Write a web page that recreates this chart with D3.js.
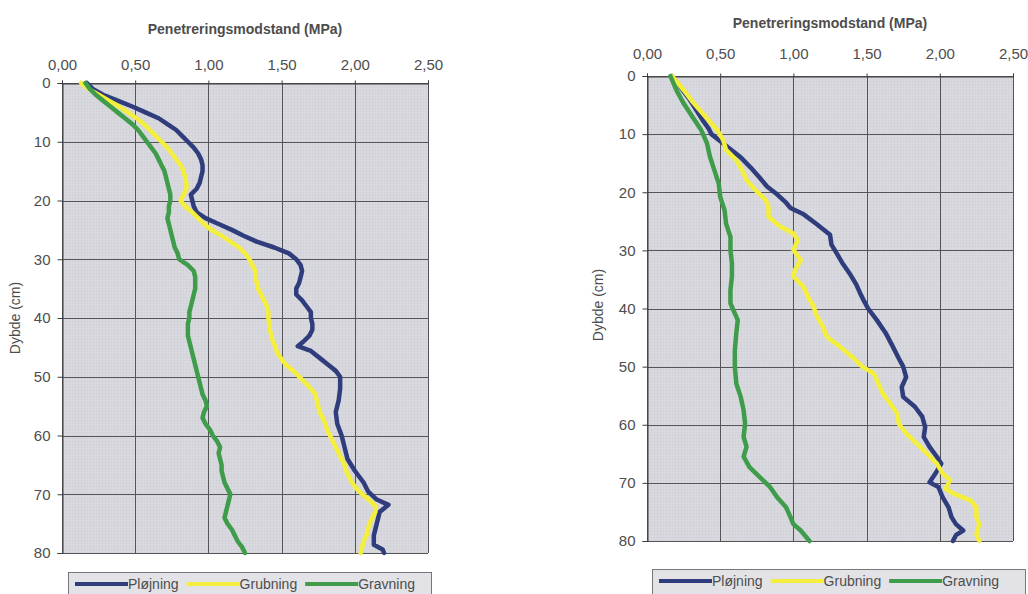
<!DOCTYPE html>
<html>
<head>
<meta charset="utf-8">
<script src="https://cdn.jsdelivr.net/npm/d3@7"></script>
<style>
  body { margin: 0; background: #fff; }
  svg text { font-family: "Liberation Sans", Arial, sans-serif; fill: #4d4d4d; }
</style>
</head>
<body>
<div id="chart"></div>
<script>
// series names and x / y ticks
var serier = ["Pløjning", "Grubning", "Gravning"];
var farver = ["#2f3d7c", "#f4ee3c", "#3f9c4b"];
var xTicks = [0, 0.5, 1, 1.5, 2, 2.5];
var yTicks = [0, 10, 20, 30, 40, 50, 60, 70, 80];

// [dybde (cm), modstand (MPa)] - left diagram
var venstrePlojning = [[0,0.17],[1,0.21],[2,0.28],[3,0.38],[4,0.48],[5,0.57],[6,0.66],[7,0.72],[8,0.78],[9,0.82],[10,0.86],
  [11,0.90],[12,0.93],[13,0.95],[14,0.96],[15,0.96],[16,0.95],[17,0.94],[18,0.92],[19,0.88],[20,0.89],[21,0.90],[22,0.92],
  [23,0.98],[24,1.07],[25,1.16],[26,1.24],[27,1.33],[28,1.45],[29,1.55],[30,1.60],[31,1.63],[32,1.64],[33,1.63],[34,1.62],
  [35,1.60],[36,1.60],[37,1.64],[38,1.67],[39,1.70],[40,1.70],[41,1.71],[42,1.71],[43,1.69],[44,1.65],[44.8,1.61],[45.6,1.70],
  [47,1.77],[48,1.82],[49,1.87],[50,1.90],[52,1.90],[54,1.89],[56,1.87],[58,1.88],[60,1.91],[62,1.93],[64,1.95],[66,2.00],
  [68,2.06],[69.5,2.09],[70.9,2.15],[71.8,2.23],[73,2.17],[75,2.15],[77,2.13],[78.6,2.13],[79.4,2.19],[80,2.20]];
var venstreGrubning = [[0,0.13],[1,0.18],[2,0.25],[3,0.32],[4,0.39],[5,0.45],[6,0.51],[7,0.56],[8,0.60],[9,0.64],[10,0.68],
  [11,0.72],[12,0.75],[13,0.78],[14,0.81],[15,0.83],[16,0.84],[17,0.85],[18,0.85],[19,0.83],[20,0.81],[21,0.84],[22,0.89],
  [23,0.93],[24,0.97],[25,1.02],[26,1.09],[27,1.15],[28,1.21],[29,1.25],[30,1.28],[31,1.30],[32,1.32],[33,1.32],[34,1.33],
  [35,1.34],[36,1.36],[37,1.38],[38,1.40],[39,1.41],[40,1.41],[42,1.42],[43,1.43],[44,1.44],[45,1.46],[46,1.47],[47,1.50],
  [48,1.53],[49,1.58],[50,1.62],[51,1.66],[52,1.70],[53,1.73],[54,1.74],[55,1.75],[56,1.76],[57,1.78],[58,1.80],[59,1.81],
  [60,1.83],[61,1.85],[62,1.87],[63,1.89],[64,1.91],[65,1.93],[66,1.94],[67,1.96],[68,1.98],[69,2.01],[70,2.05],[71,2.10],
  [72,2.14],[73,2.14],[74,2.12],[75,2.10],[76,2.09],[77,2.08],[78,2.06],[79,2.05],[80,2.04]];
var venstreGravning = [[0,0.16],[1,0.19],[2,0.23],[3,0.28],[4,0.33],[5,0.38],[6,0.43],[7,0.48],[8,0.52],[9,0.55],[10,0.58],
  [11,0.61],[12,0.64],[13,0.66],[14,0.68],[15,0.70],[16,0.71],[17,0.72],[18,0.73],[19,0.74],[20,0.74],[21,0.73],[22,0.73],
  [23,0.72],[24,0.73],[25,0.74],[26,0.75],[27,0.76],[28,0.77],[29,0.79],[30,0.80],[31,0.86],[32,0.90],[33,0.91],[34,0.91],
  [35,0.91],[36,0.90],[37,0.89],[38,0.88],[39,0.87],[40,0.87],[41,0.86],[42,0.86],[43,0.86],[44,0.87],[45,0.88],[46,0.89],
  [47,0.90],[48,0.91],[49,0.92],[50,0.93],[51,0.94],[52,0.95],[53,0.96],[54,0.98],[55,0.99],[56,0.97],[57,0.96],[58,0.98],
  [59,1.01],[60,1.03],[61,1.06],[62,1.08],[63,1.07],[64,1.08],[65,1.09],[66,1.09],[67,1.10],[68,1.11],[69,1.13],[70,1.15],
  [71,1.14],[72,1.13],[73,1.12],[74,1.11],[75,1.13],[76,1.16],[77,1.18],[78,1.20],[79,1.23],[80,1.25]];

// right diagram
var hojrePlojning = [[0,0.17],[2,0.23],[4,0.29],[6,0.34],[7.6,0.38],[9,0.42],[10,0.44],[11.4,0.51],[12.6,0.57],[14,0.64],
  [15.8,0.71],[17.5,0.77],[19,0.82],[20.4,0.89],[21.8,0.95],[22.7,0.98],[23.8,1.07],[25.5,1.16],[27.3,1.25],[29,1.26],
  [30.7,1.30],[32.4,1.34],[34.2,1.39],[35.9,1.43],[37.6,1.46],[38.6,1.48],[40,1.51],[42,1.57],[44.2,1.63],[46.6,1.68],
  [48.6,1.72],[50,1.75],[51.8,1.77],[53.5,1.74],[55.2,1.75],[56.9,1.83],[58.6,1.88],[60.4,1.90],[62.1,1.89],[63.8,1.93],
  [65.5,1.98],[66.7,2.01],[68.4,1.97],[69.9,1.93],[70.7,1.99],[72.5,2.02],[74.2,2.06],[75.9,2.08],[77.1,2.11],[78.2,2.16],
  [79,2.11],[80,2.09]];
var hojreGrubning = [[0,0.17],[2.4,0.25],[4.7,0.32],[7,0.40],[9.3,0.48],[11,0.52],[12.7,0.54],[14.5,0.61],[16.2,0.65],
  [17.9,0.68],[19.6,0.74],[21.3,0.81],[22.5,0.83],[24.2,0.83],[25.9,0.91],[27.1,1.00],[28.2,1.03],[29.9,1.00],[31.7,1.05],
  [33.4,1.01],[34.5,1.00],[36.3,1.07],[38,1.10],[39.7,1.14],[40.8,1.15],[43.1,1.20],[44.9,1.23],[46.6,1.32],[48.3,1.40],
  [50,1.47],[51.2,1.55],[52.9,1.58],[54.6,1.61],[56.3,1.66],[58.1,1.71],[59.8,1.72],[61.5,1.77],[63.2,1.84],[64.9,1.91],
  [66.7,1.98],[68.4,2.02],[69.5,2.07],[71,2.04],[71.8,2.09],[73,2.21],[74.2,2.25],[75.9,2.25],[77.1,2.27],[78.8,2.25],[80,2.27]];
var hojreGravning = [[0,0.16],[2.4,0.20],[4.7,0.25],[7,0.31],[9.3,0.37],[11.6,0.41],[13.9,0.43],[16.2,0.46],[18.5,0.49],
  [20.8,0.50],[23.1,0.53],[25.4,0.54],[27.7,0.57],[30,0.57],[32.2,0.58],[34.5,0.58],[36.8,0.57],[39.1,0.57],[40.3,0.59],
  [42,0.62],[44.2,0.61],[47.2,0.60],[50,0.60],[52.9,0.61],[55.2,0.64],[57.5,0.66],[59.8,0.67],[62.1,0.66],[63.8,0.68],
  [65.5,0.66],[67.3,0.70],[69,0.77],[70.7,0.84],[72.5,0.89],[74.2,0.95],[75.9,0.98],[77.1,1.00],[78.2,1.05],[80,1.11]];

// danish number format: 0,50
var locale = d3.formatLocale({decimal: ",", thousands: ".", grouping: [3], currency: ["", " kr"]});
var fmt = locale.format(".2f");

var svg = d3.select("#chart").append("svg")
    .attr("width", 1028)
    .attr("height", 594);

// fine screen texture of the plot area
var pattern = svg.append("defs").append("pattern")
    .attr("id", "raster")
    .attr("width", 3).attr("height", 3)
    .attr("patternUnits", "userSpaceOnUse");
pattern.append("rect").attr("width", 3).attr("height", 3).attr("fill", "#dadae0");
pattern.append("path").attr("d", "M0 0.5H3M0.5 0V3").attr("stroke", "#d3d3da").attr("stroke-width", 1);

var panels = [
  {series: [venstrePlojning, venstreGrubning, venstreGravning],
   left: 62, right: 428, top: 83, bottom: 553, titleY: 34, tickPad: 11, yTitleX: 15, yTitleY: 318,
   legendX: 68, legendY: 572, legendW: 363},
  {series: [hojrePlojning, hojreGrubning, hojreGravning],
   left: 647, right: 1013, top: 76, bottom: 541, titleY: 28, tickPad: 15, yTitleX: 598, yTitleY: 305,
   legendX: 652, legendY: 569, legendW: 373}
];

panels.forEach(drawPanel);

function drawPanel(p) {
  var x = d3.scaleLinear().domain([0, 2.5]).range([p.left, p.right]);
  var y = d3.scaleLinear().domain([0, 80]).range([p.top, p.bottom]);
  var g = svg.append("g");

  g.append("rect")
      .attr("x", p.left).attr("y", p.top)
      .attr("width", p.right - p.left).attr("height", p.bottom - p.top)
      .attr("fill", "url(#raster)");

  // grid
  g.append("g").selectAll("line.vx")
      .data(xTicks)
    .enter().append("line")
      .attr("x1", function(d) { return Math.round(x(d)) + 0.5; })
      .attr("x2", function(d) { return Math.round(x(d)) + 0.5; })
      .attr("y1", p.top).attr("y2", p.bottom)
      .attr("stroke", "#555559").attr("stroke-width", 1);
  g.append("g").selectAll("line.hy")
      .data(yTicks)
    .enter().append("line")
      .attr("y1", function(d) { return Math.round(y(d)) + 0.5; })
      .attr("y2", function(d) { return Math.round(y(d)) + 0.5; })
      .attr("x1", p.left).attr("x2", p.right)
      .attr("stroke", "#555559").attr("stroke-width", 1);

  // axes
  var xAxis = g.append("g")
      .attr("transform", "translate(0," + (Math.round(p.top) + 0.5) + ")")
      .call(d3.axisTop(x).tickValues(xTicks).tickFormat(fmt).tickSize(3).tickPadding(p.tickPad));
  var yAxis = g.append("g")
      .attr("transform", "translate(" + (Math.round(p.left) + 0.5) + ",0)")
      .call(d3.axisLeft(y).tickValues(yTicks).tickSize(5).tickPadding(7));
  [xAxis, yAxis].forEach(function(a) {
    a.select(".domain").attr("stroke", "#3c3c40");
    a.selectAll(".tick line").attr("stroke", "#3c3c40");
    a.selectAll("text").attr("font-size", 15).attr("fill", "#555")
        .style("font-family", "'Liberation Sans', Arial, sans-serif");
  });

  g.append("text")
      .attr("x", (p.left + p.right) / 2)
      .attr("y", p.titleY)
      .attr("text-anchor", "middle")
      .attr("font-size", 14)
      .attr("font-weight", "bold")
      .attr("fill", "#555")
      .text("Penetreringsmodstand (MPa)");

  g.append("text")
      .attr("transform", "translate(" + p.yTitleX + "," + p.yTitleY + ") rotate(-90)")
      .attr("text-anchor", "middle")
      .attr("dy", ".35em")
      .attr("font-size", 14)
      .text("Dybde (cm)");

  // the curves
  var line = d3.line()
      .x(function(d) { return x(d[1]); })
      .y(function(d) { return y(d[0]); });

  g.append("g").selectAll("path")
      .data(p.series)
    .enter().append("path")
      .attr("d", line)
      .attr("fill", "none")
      .attr("stroke", function(d, i) { return farver[i]; })
      .attr("stroke-width", 4.5)
      .attr("stroke-linejoin", "round")
      .attr("stroke-linecap", "round");

  // legend
  var lg = g.append("g").attr("transform", "translate(" + p.legendX + "," + p.legendY + ")");
  lg.append("rect")
      .attr("x", 0.5).attr("y", 0.5)
      .attr("width", p.legendW).attr("height", 30)
      .attr("fill", "#e3e3e7")
      .attr("stroke", "#77777b");
  var cx = 7;
  serier.forEach(function(name, i) {
    lg.append("line")
        .attr("x1", cx).attr("x2", cx + 53)
        .attr("y1", 12).attr("y2", 12)
        .attr("stroke", farver[i])
        .attr("stroke-width", 4);
    var t = lg.append("text")
        .attr("x", cx + 53)
        .attr("y", 17)
        .attr("font-size", 14)
        .text(name);
    cx += 53 + t.node().getComputedTextLength() + 8;
  });
}
</script>
</body>
</html>
